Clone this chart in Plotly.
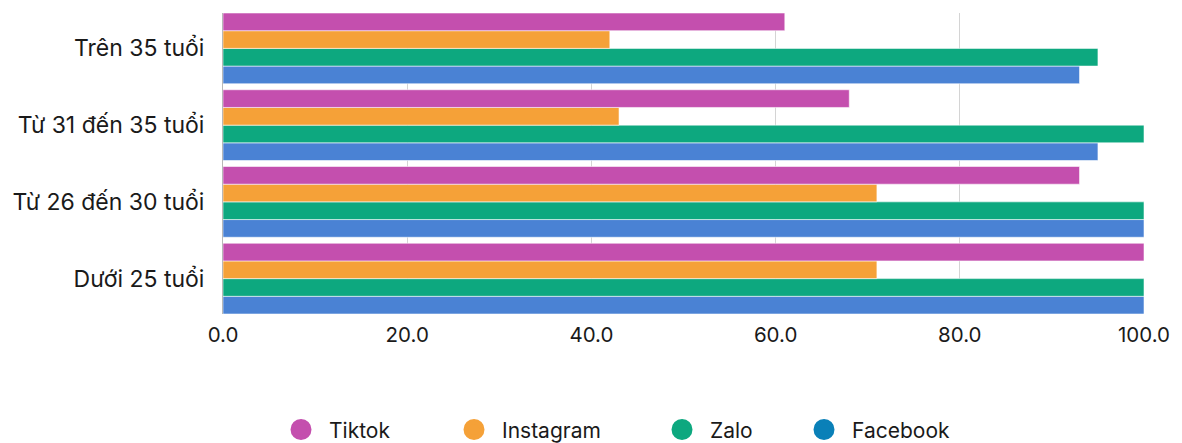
import plotly.graph_objects as go

categories = ["Dưới 25 tuổi", "Từ 26 đến 30 tuổi", "Từ 31 đến 35 tuổi", "Trên 35 tuổi"]
series_names = ["Tiktok", "Instagram", "Zalo", "Facebook"]
tiktok = [100, 93, 68, 61]
instagram = [71, 71, 43, 42]
zalo = [100, 100, 100, 95]
facebook = [100, 100, 95, 93]
values = {"Tiktok": tiktok, "Instagram": instagram, "Zalo": zalo, "Facebook": facebook}
bar_colors = {"Tiktok": "#c44fae", "Instagram": "#f5a138", "Zalo": "#0da87f", "Facebook": "#4a82d4"}
legend_colors = {"Tiktok": "#c44fae", "Instagram": "#f5a138", "Zalo": "#0da87f", "Facebook": "#0a80b8"}
legend_widths = {"Tiktok": 112, "Instagram": 147, "Zalo": 81, "Facebook": 100}
x_ticks = [0, 20, 40, 60, 80, 100]

FONT = "Inter"
TXT = "#1a1a1a"
fig = go.Figure()

# bars: first trace drawn at bottom of each group, so add in reverse order
for name in reversed(series_names):
    fig.add_trace(go.Bar(
        y=categories, x=values[name], orientation="h", name=name,
        marker=dict(color=bar_colors[name], line=dict(color="rgba(255,255,255,0.55)", width=1)),
        showlegend=False,
    ))

# legend entries (circles)
for name in series_names:
    fig.add_trace(go.Scatter(
        x=[None], y=[None], mode="markers", name=name,
        marker=dict(symbol="circle", size=16, color=legend_colors[name],
                    line=dict(color=legend_colors[name], width=5)),
        showlegend=True, legendwidth=legend_widths[name],
    ))

gap = 0.078
fig.update_layout(
    width=1182, height=443,
    margin=dict(l=223, r=38, t=13, b=129, pad=0, autoexpand=False),
    paper_bgcolor="white", plot_bgcolor="white",
    barmode="group", bargap=gap, bargroupgap=0,
    font=dict(family=FONT, size=20, color=TXT),
    xaxis=dict(range=[0, 100], tickvals=x_ticks, tickformat=".1f",
               showgrid=True, gridcolor="#d4d4d4", gridwidth=1,
               zeroline=False, showline=False, ticks="", fixedrange=True,
               ticklabelstandoff=6,
               tickfont=dict(family=FONT, size=20.5, color=TXT)),
    yaxis=dict(type="category", categoryorder="array", categoryarray=categories,
               range=[-0.5 + gap / 2, 3.5 - gap / 2],
               showgrid=False, zeroline=False,
               showline=True, linecolor="#b8b8b8", linewidth=1,
               ticks="", ticklabelstandoff=13,
               tickfont=dict(family=FONT, size=23, color=TXT)),
    legend=dict(orientation="h", x=0.0543, xanchor="left", y=-0.385, yanchor="middle",
                font=dict(family=FONT, size=21, color=TXT),
                itemwidth=46, traceorder="normal"),
)

fig.write_html("out.html")
